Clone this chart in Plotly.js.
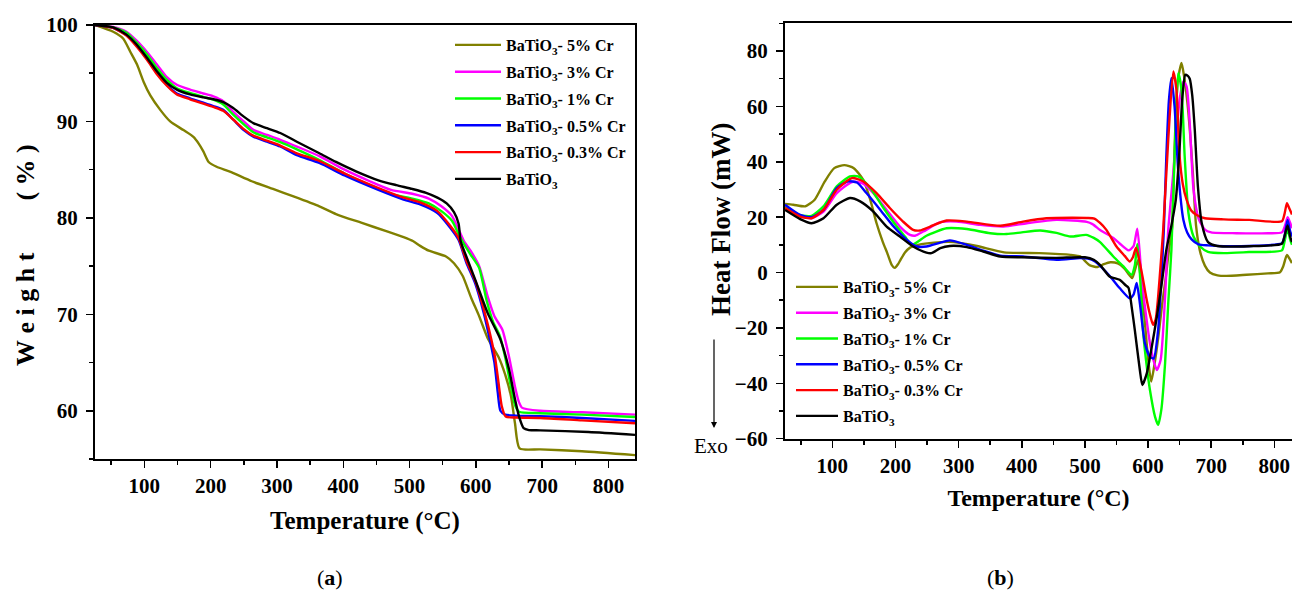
<!DOCTYPE html>
<html>
<head>
<meta charset="utf-8">
<script src="https://cdn.plot.ly/plotly-3.0.1.min.js"></script>
<style>html,body{margin:0;padding:0;background:#fff;}#chart{width:1292px;height:595px;}</style>
</head>
<body>
<div id="chart"></div>
<script>
// ---------- Series names & colours ----------
const seriesNames = ['BaTiO<sub>3</sub>- 5% Cr','BaTiO<sub>3</sub>- 3% Cr','BaTiO<sub>3</sub>- 1% Cr','BaTiO<sub>3</sub>- 0.5% Cr','BaTiO<sub>3</sub>- 0.3% Cr','BaTiO<sub>3</sub>'];
const seriesColors = ['#808000','#ff00ff','#00ff00','#0000ff','#ff0000','#000000'];

// ---------- (a) TGA: temperature (°C) / weight (%) ----------
const tgaT_cr5 = [25.6,53,68,79,89,99,109,124,139,159,
  174,182,189,197,209,229,262,294,326,364,
  389,427,466,491,505,516,529,555,567,580,
  593,605,618,634,644,653,659,666,697,760,
  840];
const tgaW_cr5 = [100,99.3,98.6,97.2,95.9,94.1,92.7,91.2,90.0,89.1,
  88.4,87.7,86.9,85.8,85.3,84.8,83.8,83.0,82.2,81.2,
  80.4,79.5,78.6,78.0,77.6,77.1,76.6,76.0,75.3,74.0,
  71.7,69.8,67.5,65.6,63.8,61.5,58.7,56.1,56.0,55.8,
  55.4];

const tgaT_cr3 = [25.6,53,73,88,104,119,134,149,169,189,
  204,219,234,250,265,285,305,330,364,402,
  440,472,504,529,548,564,574,582,592,605,
  618,628,640,650,659,665,670,697,760,840];
const tgaW_cr3 = [100,99.8,99.3,98.4,97.2,95.9,94.6,93.8,93.3,92.9,
  92.6,92.1,91.0,90.0,89.1,88.6,88.1,87.4,86.4,85.0,
  83.8,82.9,82.5,82.0,81.2,80.2,78.8,77.6,76.6,75.0,
  71.8,69.8,68.4,65.6,62.5,60.9,60.3,60.0,59.85,59.6];

const tgaT_cr1 = [25.6,53,73,88,104,119,134,149,169,189,
  204,219,234,250,265,285,305,330,364,402,
  440,472,504,529,548,564,574,582,592,605,
  616,626,636,645,652,659,665,697,760,840];
const tgaW_cr1 = [100,99.75,99.2,98.2,96.95,95.55,94.3,93.45,92.95,92.55,
  92.25,91.75,90.7,89.7,88.85,88.35,87.85,87.1,86.0,84.6,
  83.4,82.5,82.0,81.5,80.7,79.7,78.3,77.3,76.2,74.8,
  71.5,69.2,67.8,65.3,62.8,60.6,59.9,59.75,59.6,59.35];

const tgaT_cr05 = [25.6,53,73,88,104,119,134,149,169,189,
  204,219,234,250,265,285,305,330,364,402,
  453,491,516,542,561,574,586,599,612,621,
  628,633,637,644,660,697,760,840];
const tgaW_cr05 = [100,99.7,98.96,97.9,96.5,95.0,93.8,92.9,92.4,91.95,
  91.6,91.2,90.2,89.1,88.4,87.9,87.4,86.5,85.7,84.4,
  82.9,81.9,81.4,80.5,79.0,77.7,75.3,73.2,70.1,67.4,
  65.0,61.9,60.0,59.6,59.5,59.45,59.25,58.95];

const tgaT_cr03 = [25.6,53,73,88,104,119,134,149,169,189,
  204,219,234,250,265,285,305,330,364,402,
  453,491,516,542,561,574,586,600,614,623,
  629,634,639,645,660,697,760,840];
const tgaW_cr03 = [100,99.7,98.9,97.8,96.4,94.9,93.7,92.8,92.3,91.85,
  91.5,91.1,90.2,89.2,88.5,88.0,87.5,86.7,85.9,84.6,
  83.1,82.1,81.6,80.7,79.2,77.9,75.5,73.3,70.0,67.5,
  65.5,63.0,60.5,59.4,59.3,59.25,59.0,58.7];

const tgaT_pure = [25.6,53,73,88,104,119,134,149,169,189,
  204,219,234,250,265,285,305,330,364,389,
  420,453,480,504,525,542,556,567,574,577,
  585,599,618,637,650,659,666,672,680,697,
  770,840];
const tgaW_pure = [100,99.75,99.0,98.0,96.6,95.2,94.0,93.3,92.8,92.5,
  92.3,92.0,91.4,90.5,89.8,89.3,88.8,87.9,86.7,85.8,
  84.8,83.9,83.4,83.0,82.6,82.1,81.5,80.6,79.4,77.6,
  76.1,73.6,70.1,67.4,64.3,61.2,59.2,58.2,58.0,57.97,
  57.8,57.5];

// ---------- (b) DSC: temperature (°C) / heat flow (mW) ----------
const dscT_cr5 = [25,38,57,72,88,103,119,134,149,160,
  170,180,187,194,199,204,208,215,223,236,
  261,292,329,372,428,477,493,500,508,520,
  530,540,552,562,570,575,580,584,589,595,
  600,605,611,617,622,628,633,638,642,647,
  653,657,662,666,671,676,682,690,698,710,
  724,756,790,809,814,820,824,828];
const dscH_cr5 = [24.8,24.5,23.9,26.3,32.9,37.7,38.8,37.7,33.5,26.3,
  17.8,11.0,7.0,2.8,1.7,3.0,4.6,7.2,9.0,10.0,
  10.8,11.0,9.6,7.3,7.0,6.4,5.8,4.2,2.6,2.0,
  3.0,3.7,3.3,1.6,-0.8,-2.0,1.5,4.5,-3,-18,
  -31,-39.4,-32,-22,-12,-2,8,16,45,69,
  75.7,71,62,52,36,17,8,2.5,0,-1,
  -1.2,-0.8,-0.3,0.1,2.2,6.4,5,3.4];

const dscT_cr3 = [25,49,67,86,107,131,147,165,186,207,
  223,231,244,270,297,334,371,408,455,503,
  512,524,545,555,569,577,583,590,596,603,
  609,614,620,627,632,640,650,656,661,666,
  672,680,690,700,740,790,812,817,821,825,
  828];
const dscH_cr3 = [23.9,20.5,19.6,22.0,28.7,32.7,32.3,28.7,22.6,16.6,
  13.6,13.3,14.8,18.1,18.4,17.2,16.6,17.8,19.0,18.3,
  17.5,15.4,12.5,10.5,8.0,9.5,15.8,-2.6,-14,-25.5,
  -32,-35.2,-31.5,-8.7,15.4,36,62.4,69,67.2,54,
  30,19.5,15.5,14.5,14.2,14.2,14.5,17,20,18,
  16];

const dscT_cr1 = [25,49,67,86,107,128,141,160,181,202,
  215,226,249,281,313,350,376,400,429,455,
  477,502,514,524,545,561,574,579,583,587,
  592,598,603,611,616,621,627,632,637,642,
  648,653,658,664,672,682,695,720,760,812,
  816,821,825,828];
const dscH_cr1 = [23.6,20.7,20.5,23.9,31.1,34.7,34.7,30.5,23.3,16.6,
  13.0,10.0,13.3,16.0,15.7,14.2,13.9,14.5,15.2,14.3,
  13.0,13.6,12.5,11.0,5.8,2.2,-0.8,2.5,10.3,0,
  -20.7,-34,-42.4,-52,-55,-49.6,-32.7,-11,8.2,42,
  72,66,42,21.5,13,9.5,7.5,7.0,7.4,8.0,
  11,15.8,12,10];

const dscT_cr05 = [25,49,67,86,107,125,139,154,176,197,
  218,234,249,271,286,313,339,366,402,455,
  492,505,516,528,540,555,571,577,582,587,
  595,603,609,616,621,625,629,633,637,642,
  648,656,662,669,680,695,720,760,812,816,
  821,825,828];
const dscH_cr05 = [24.5,20.8,20.0,22.6,30.5,32.9,32.5,28.7,22.6,16.6,
  11.8,9.4,9.4,10.8,11.6,10.0,7.9,6.1,5.8,4.6,
  5.2,5.0,4.0,1.5,-1.4,-5.6,-9.3,-8,-3.8,-11,
  -25.5,-30.4,-31,-20.7,-2.6,15.4,42,62,70.3,60,
  36,19,14.5,12,10.2,9.8,9.5,9.6,10.6,13,
  19,15,13];

const dscT_cr03 = [25,49,67,86,107,131,149,170,191,212,
  228,239,255,281,313,366,402,439,480,503,
  515,524,534,550,563,571,576,581,590,598,
  604,608,612,616,620,624,632,640,645,650,
  655,661,668,677,690,720,760,812,816,820,
  824,828];
const dscH_cr03 = [23.3,20.2,19.6,22.6,29.9,34.1,32.9,28.7,23.3,18.4,
  15.4,15.2,16.6,18.8,18.4,16.9,18.4,19.6,19.8,19.7,
  19.5,17.9,15.4,9.4,6.0,4.0,5.5,9.0,0,-10,
  -16,-18.9,-17,-8.7,3,15.4,48,72.6,66,42,
  32,26.3,22.5,20.8,19.6,19.2,19.0,18.5,21,25,
  23,21];

const dscT_pure = [25,49,67,86,107,128,144,165,186,207,
  228,249,257,271,286,313,339,366,400,455,
  500,514,525,539,555,564,569,574,579,587,
  591,598,606,614,621,629,637,644,650,654,
  659,663,666,670,674,679,685,695,710,760,
  812,816,821,825,828];
const dscH_pure = [22.6,19.3,17.8,19.6,24.5,26.9,25.7,22.0,16.6,13.0,
  9.4,7.2,7.0,8.8,9.6,9.2,7.6,5.8,5.5,5.3,
  5.5,4.6,2.5,-1.4,-2.6,-4.5,-5.5,-12.3,-20.7,-35.2,
  -40.6,-36.4,-26.7,-15.9,-5.1,8.2,17,26.3,45,62,
  71.4,71.0,70,64,51.6,31,17.9,11,9.6,9.5,
  10.4,13,17,13,11];

// ---------- Tick values ----------
const tgaXTicks = [100,200,300,400,500,600,700,800];
const tgaYTicks = [60,70,80,90,100];
const dscXTicks = [100,200,300,400,500,600,700,800];
const dscYTicks = [-60,-40,-20,0,20,40,60,80];

const tgaX = [tgaT_cr5,tgaT_cr3,tgaT_cr1,tgaT_cr05,tgaT_cr03,tgaT_pure];
const tgaY = [tgaW_cr5,tgaW_cr3,tgaW_cr1,tgaW_cr05,tgaW_cr03,tgaW_pure];
const dscX = [dscT_cr5,dscT_cr3,dscT_cr1,dscT_cr05,dscT_cr03,dscT_pure];
const dscY = [dscH_cr5,dscH_cr3,dscH_cr1,dscH_cr05,dscH_cr03,dscH_pure];

const FONT = 'Liberation Serif, Times New Roman, serif';
const W = 1292, H = 595;
const NB = '\u00a0';

const traces = [];
seriesNames.forEach((name, i) => {
  traces.push({
    type:'scatter', mode:'lines', x:tgaX[i], y:tgaY[i], name:name,
    xaxis:'x', yaxis:'y', legend:'legend', legendgroup:'a'+i,
    line:{color:seriesColors[i], width:2.4, shape:'spline', smoothing:0.6},
    hoverinfo:'skip'
  });
});
seriesNames.forEach((name, i) => {
  traces.push({
    type:'scatter', mode:'lines', x:dscX[i], y:dscY[i], name:name,
    xaxis:'x2', yaxis:'y2', legend:'legend2', legendgroup:'b'+i,
    line:{color:seriesColors[i], width:2.4, shape:'spline', smoothing:0.6},
    hoverinfo:'skip'
  });
});

const tickFont = {family:FONT, size:21, color:'#000', weight:'bold'};
const titleFont = {family:FONT, size:25, color:'#000', weight:'bold'};
const baseAxis = {
  showline:true, linewidth:2, linecolor:'#000', mirror:true,
  ticks:'outside', ticklen:7, tickwidth:1.5, tickcolor:'#000',
  showgrid:false, zeroline:false, automargin:false, tickfont:tickFont
};
const minorTicks = (d) => ({dtick:d, tick0:0, ticks:'outside', ticklen:4, tickwidth:1.5, tickcolor:'#000'});

const legendBase = {
  xanchor:'left', yanchor:'top', bgcolor:'rgba(0,0,0,0)', borderwidth:0,
  font:{family:FONT, size:16, color:'#000', weight:'bold'},
  traceorder:'grouped'
};

// letter-spaced y title as in the reference
const weightTitle = ['W','e','i','g','h','t'].join(NB) + NB.repeat(8) + ['(','%',')'].join(NB);
const heatTitle = 'Heat Flow (mW)';

const layout = {
  width:W, height:H, margin:{l:0,r:0,t:0,b:0},
  paper_bgcolor:'#fff', plot_bgcolor:'#fff', showlegend:true,
  xaxis: Object.assign({}, baseAxis, {
    domain:[95/W, 635/W], range:[25.6,840], anchor:'y',
    tickvals:tgaXTicks, minor:minorTicks(50),
    title:{text:'Temperature (°C)', font:titleFont, standoff:14}
  }),
  yaxis: Object.assign({}, baseAxis, {
    domain:[1-459/H, 1-25/H], range:[55,100], anchor:'x',
    tickvals:tgaYTicks, ticklabelstandoff:4, minor:minorTicks(5)
  }),
  xaxis2: Object.assign({}, baseAxis, {
    domain:[785/W, 1], range:[25,828], anchor:'y2',
    tickvals:dscXTicks, minor:minorTicks(50),
    title:{text:'Temperature (°C)', font:Object.assign({}, titleFont, {size:24}), standoff:12}
  }),
  yaxis2: Object.assign({}, baseAxis, {
    domain:[1-438.7/H, 1-23.3/H], range:[-60,90], anchor:'x2', mirror:false,
    tickvals:dscYTicks, ticklabelstandoff:4, minor:minorTicks(10)
  }),
  legend: Object.assign({}, legendBase, {x:450/W, y:1-28/H, itemwidth:46, tracegroupgap:3}),
  legend2: Object.assign({}, legendBase, {x:791/W, y:1-270/H, itemwidth:42, tracegroupgap:2}),
  annotations:[
    // y-axis titles (placed as in the reference)
    {xref:'paper', yref:'paper', x:25/W, y:1-255/H, text:'<b>'+weightTitle+'</b>', textangle:-90, showarrow:false,
     font:{family:FONT, size:26, color:'#000'}, xanchor:'center', yanchor:'middle'},
    {xref:'paper', yref:'paper', x:721/W, y:1-220/H, text:'<b>'+heatTitle+'</b>', textangle:-90, showarrow:false,
     font:{family:FONT, size:27, color:'#000'}, xanchor:'center', yanchor:'middle'},
    {xref:'paper', yref:'paper', x:330/W, y:1-577/H, text:'(<b>a</b>)', showarrow:false,
     font:{family:FONT, size:22, color:'#000'}, xanchor:'center', yanchor:'middle'},
    {xref:'paper', yref:'paper', x:1000/W, y:1-577/H, text:'(<b>b</b>)', showarrow:false,
     font:{family:FONT, size:22, color:'#000'}, xanchor:'center', yanchor:'middle'},
    {xref:'paper', yref:'paper', x:711/W, y:1-446/H, text:'Exo', showarrow:false,
     font:{family:FONT, size:21, color:'#000'}, xanchor:'center', yanchor:'middle'},
    {xref:'paper', yref:'paper', x:714/W, y:1-428/H, text:'', showarrow:true,
     ax:0, ay:-90, arrowhead:2, arrowsize:1, arrowwidth:1.2, arrowcolor:'#000'}
  ]
};

Plotly.newPlot('chart', traces, layout, {staticPlot:true, displayModeBar:false});
</script>
</body>
</html>
